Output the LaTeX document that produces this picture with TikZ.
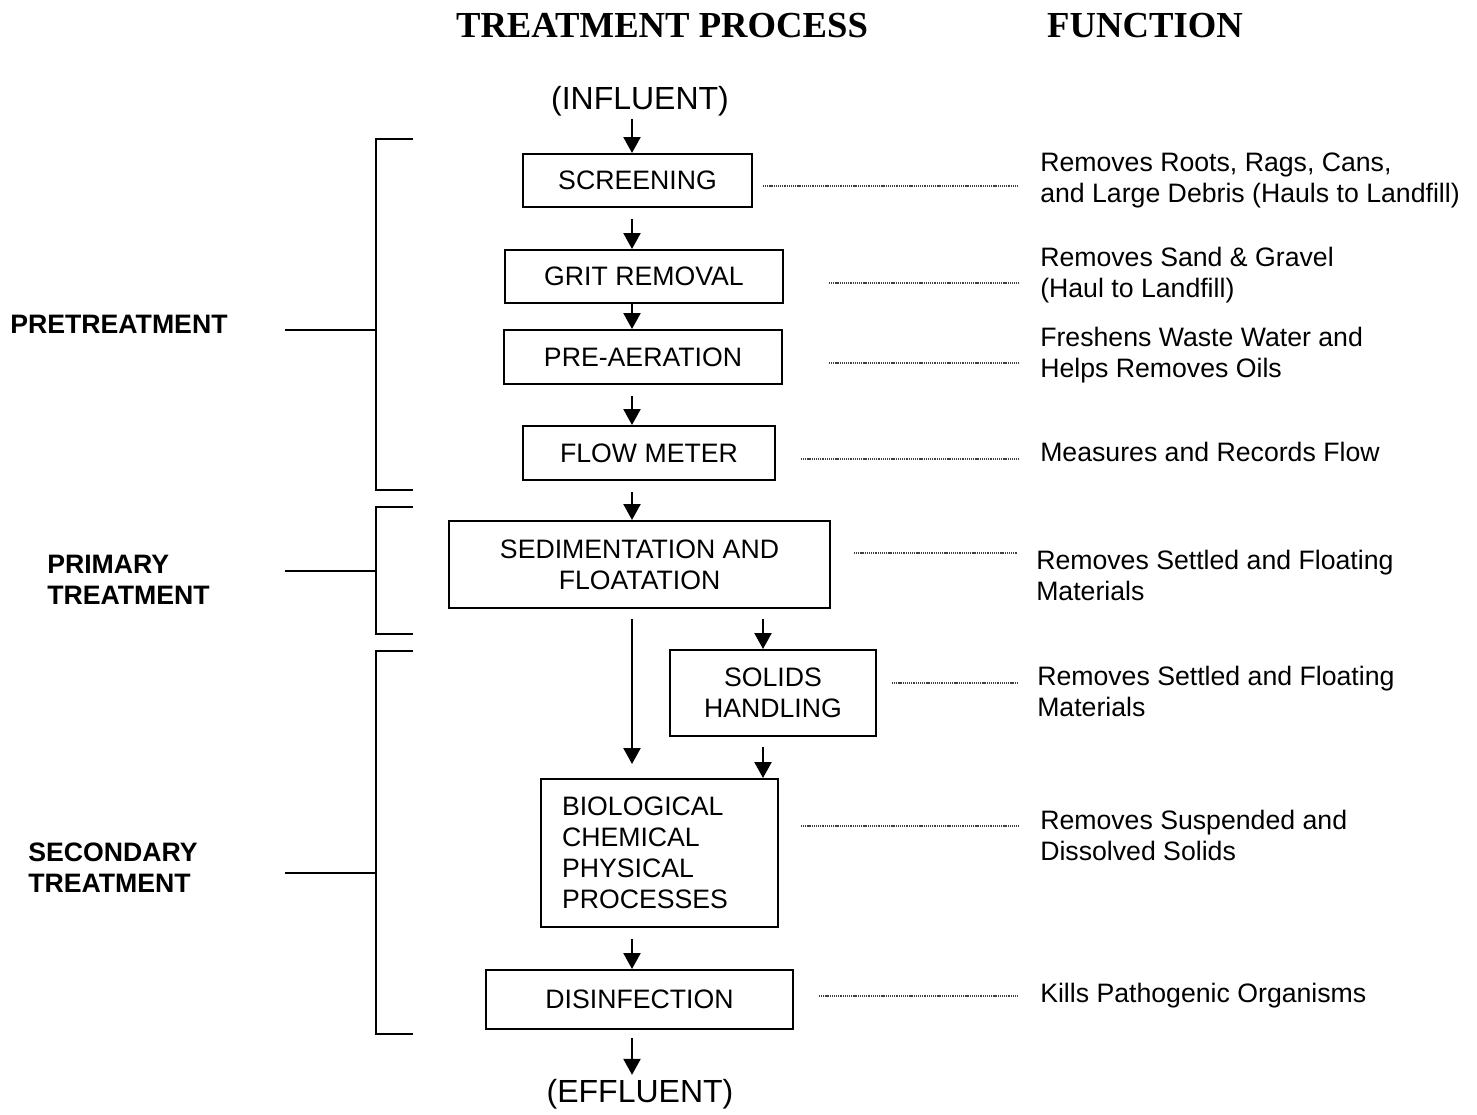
\documentclass[tikz,border=0pt]{standalone}
\usepackage{fontspec}
\setmainfont{Liberation Sans}
\newfontfamily\titlefont{Liberation Serif}
\usetikzlibrary{arrows.meta}

\begin{document}
\begin{tikzpicture}[x=0.75pt, y=-0.75pt,
    font=\fontsize{20}{23.25}\selectfont,
    stage/.style={draw, line width=1.5pt, inner sep=0pt, align=center},
    flow/.style={line width=1.7pt, -{Triangle[width=12.75pt,length=12pt]}},
    leader/.style={line width=1.2pt, black!75, dash pattern=on 0.8pt off 0.6pt},
    bracket/.style={line width=1.5pt},
    func/.style={anchor=west, align=left, inner sep=0pt},
    group/.style={anchor=west, align=left, inner sep=0pt, font=\fontsize{20}{23.25}\selectfont\bfseries},
    head/.style={font=\fontsize{27.5}{30}\selectfont\titlefont\bfseries},
    ends/.style={inner sep=0pt, font=\fontsize{24}{28}\selectfont}]
    \useasboundingbox (0,0) rectangle (1477,1114);
    \node[head] (hproc) at (662,26) {TREATMENT PROCESS};
    \node[head] (hfunc) at (1145,26) {FUNCTION};

    \node[ends] (infl) at (640,101) {(INFLUENT)};
    \node[stage, minimum width=171.75pt, minimum height=39.75pt] (scr) at (637.5,180.5) {SCREENING};
    \node[stage, minimum width=208.5pt, minimum height=39.75pt] (grit) at (644,276.5) {GRIT REMOVAL};
    \node[stage, minimum width=208.5pt, minimum height=40.5pt] (pre) at (643,357) {PRE-AERATION};
    \node[stage, minimum width=189pt, minimum height=40.5pt] (meter) at (649,453) {FLOW METER};
    \node[stage, minimum width=285.75pt, minimum height=65.25pt] (sed) at (639.5,564.5) {SEDIMENTATION AND\\FLOATATION};
    \node[stage, minimum width=154.5pt, minimum height=64.5pt] (solids) at (773,693) {SOLIDS\\HANDLING};
    \node[stage, align=left, text width=146.25pt, inner xsep=15.75pt, minimum height=111pt] (bio) at (659.5,853) {BIOLOGICAL\\CHEMICAL\\PHYSICAL\\PROCESSES};
    \node[stage, minimum width=230.25pt, minimum height=44.25pt] (dis) at (639.5,999.5) {DISINFECTION};
    \node[ends] (effl) at (640,1094) {(EFFLUENT)};

    \coordinate (spine) at (632,0);
    \coordinate (branch) at (763,0);
    \draw[flow] ([yshift=-2.25pt]infl.south -| spine) -- (scr.north -| spine);
    \draw[flow] ([yshift=-8.25pt]scr.south -| spine) -- (grit.north -| spine);
    \draw[flow] (grit.south -| spine) -- (pre.north -| spine);
    \draw[flow] ([yshift=-8.25pt]pre.south -| spine) -- (meter.north -| spine);
    \draw[flow] ([yshift=-8.25pt]meter.south -| spine) -- (sed.north -| spine);
    \draw[flow] ([yshift=-7.5pt]sed.south -| spine) -- ([yshift=10.5pt]bio.north -| spine);
    \draw[flow] ([yshift=-7.5pt]sed.south -| branch) -- (solids.north -| branch);
    \draw[flow] ([yshift=-7.5pt]solids.south -| branch) -- (bio.north -| branch);
    \draw[flow] ([yshift=-8.25pt]bio.south -| spine) -- (dis.north -| spine);
    \draw[flow] ([yshift=-6pt]dis.south -| spine) -- ([yshift=3pt]effl.north -| spine);

    \node[func] (f1) at (1040,180) {Removes Roots, Rags, Cans,\\and Large Debris (Hauls to Landfill)};
    \node[func] (f2) at (1040,275.5) {Removes Sand \& Gravel\\(Haul to Landfill)};
    \node[func] (f3) at (1040,355.5) {Freshens Waste Water and\\Helps Removes Oils};
    \node[func] (f4) at (1040,452) {Measures and Records Flow};
    \node[func] (f5) at (1036,575.5) {Removes Settled and Floating\\Materials};
    \node[func] (f6) at (1037,691.5) {Removes Settled and Floating\\Materials};
    \node[func] (f7) at (1040,835.5) {Removes Suspended and\\Dissolved Solids};
    \node[func] (f8) at (1040,996) {Kills Pathogenic Organisms};

    \draw[leader] ([xshift=7.5pt]scr.east |- 0,186) -- ([xshift=-16.5pt]f1.west |- 0,186);
    \draw[leader] ([xshift=33.75pt]grit.east |- 0,283) -- ([xshift=-16.5pt]f2.west |- 0,283);
    \draw[leader] ([xshift=34.5pt]pre.east |- 0,363) -- ([xshift=-16.5pt]f3.west |- 0,363);
    \draw[leader] ([xshift=18.75pt]meter.east |- 0,459) -- ([xshift=-16.5pt]f4.west |- 0,459);
    \draw[leader] ([xshift=17.25pt]sed.east |- 0,553) -- ([xshift=-13.5pt]f5.west |- 0,553);
    \draw[leader] ([xshift=11.25pt]solids.east |- 0,683) -- ([xshift=-14.25pt]f6.west |- 0,683);
    \draw[leader] ([xshift=16.5pt]bio.east |- 0,826) -- ([xshift=-16.5pt]f7.west |- 0,826);
    \draw[leader] ([xshift=18.75pt]dis.east |- 0,996) -- ([xshift=-16.5pt]f8.west |- 0,996);

    \node[group] (gpre) at (10,324) {PRETREATMENT};
    \node[group] (gprim) at (47,579.5) {PRIMARY\\TREATMENT};
    \node[group] (gsec) at (28,867.5) {SECONDARY\\TREATMENT};
    \foreach \top/\bot/\mid in {139/490/330, 507/634/571, 651/1034/873}
        \draw[bracket] (413,\top) -- (376,\top) -- (376,\bot) -- (413,\bot) (285,\mid) -- (376,\mid);
\end{tikzpicture}
\end{document}
